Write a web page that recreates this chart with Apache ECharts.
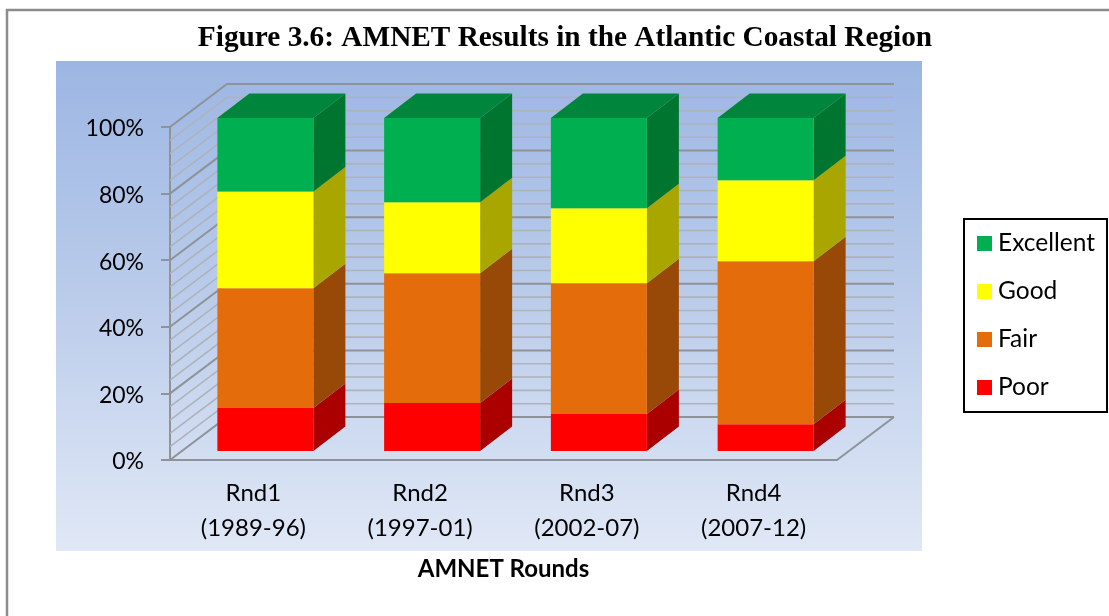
<!DOCTYPE html>
<html>
<head>
<meta charset="utf-8">
<style>html,body{margin:0;padding:0;background:#fff}#chart{width:1109px;height:616px}</style>
<script src="https://cdn.jsdelivr.net/npm/echarts@6/dist/echarts.min.js"></script>
</head>
<body>
<div id="chart"></div>
<script>
const rounds = ['Rnd1\n(1989-96)', 'Rnd2\n(1997-01)', 'Rnd3\n(2002-07)', 'Rnd4\n(2007-12)'];
const poor = [12.9, 14.4, 11.1, 8.0];
const fair = [36.0, 39.0, 39.3, 49.0];
const good = [29.0, 21.3, 22.5, 24.3];
const excellent = [22.1, 25.3, 27.1, 18.7];
const gridSteps = [0, 4, 8, 12, 16, 20, 24, 28, 32, 36, 40, 44, 48, 52, 56, 60, 64, 68, 72, 76, 80, 84, 88, 92, 96, 100];

// Oblique projection used for the walls and the bar solids
const WALL_DX = 57, WALL_DY = -43;
const INSET_DX = 12, INSET_DY = -9;
const BAR_DX = 32, BAR_DY = -24.5;
const BAR_HALF = 48;

const chart = echarts.init(document.getElementById('chart'), null, { renderer: 'canvas' });

function renderWalls(params, api) {
  const v = api.value(0);
  const cs = params.coordSys;
  const y = api.coord([0, v])[1];
  const x0 = cs.x, x1 = cs.x + cs.width;
  const major = v % 20 === 0;
  const stroke = major ? '#8f9398' : '#aeb3bb';
  const lw = major ? 2 : 1.6;
  const children = [{
    type: 'polyline',
    shape: { points: [[x0, y], [x0 + WALL_DX, y + WALL_DY], [x1 + WALL_DX, y + WALL_DY]] },
    style: { stroke, lineWidth: lw, fill: null }
  }];
  if (v === 0) {
    children.push({
      type: 'line',
      shape: { x1: x1, y1: y, x2: x1 + WALL_DX, y2: y + WALL_DY },
      style: { stroke, lineWidth: lw }
    });
  }
  return { type: 'group', children };
}

function barSolid(sideColor, topColor) {
  return function (params, api) {
    const idx = api.value(0);
    const a = api.coord([idx, api.value(1)]);
    const b = api.coord([idx, api.value(2)]);
    const left = a[0] + INSET_DX - BAR_HALF;
    const right = a[0] + INSET_DX + BAR_HALF;
    const yLow = a[1] + INSET_DY;
    const yHigh = b[1] + INSET_DY;
    const children = [
      {
        type: 'polygon',
        shape: { points: [[right, yLow], [right + BAR_DX, yLow + BAR_DY], [right + BAR_DX, yHigh + BAR_DY], [right, yHigh]] },
        style: { fill: sideColor }
      },
      {
        type: 'rect',
        shape: { x: left, y: yHigh, width: right - left, height: yLow - yHigh },
        style: { fill: api.visual('color') }
      }
    ];
    if (topColor) {
      children.push({
        type: 'polygon',
        shape: { points: [[left, yHigh], [right, yHigh], [right + BAR_DX, yHigh + BAR_DY], [left + BAR_DX, yHigh + BAR_DY]] },
        style: { fill: topColor }
      });
    }
    return { type: 'group', children };
  };
}

const layers = [
  { name: 'Poor', values: poor, color: '#FF0000', side: '#AA0000' },
  { name: 'Fair', values: fair, color: '#E46C0A', side: '#984807' },
  { name: 'Good', values: good, color: '#FFFF00', side: '#AAA600' },
  { name: 'Excellent', values: excellent, color: '#00B050', side: '#00752F', top: '#00863C' }
];

const running = rounds.map(() => 0);
const barSeries = layers.map(layer => ({
  name: layer.name,
  type: 'custom',
  z: 5,
  itemStyle: { color: layer.color },
  encode: { x: 0, y: [1, 2] },
  renderItem: barSolid(layer.side, layer.top),
  data: layer.values.map((val, i) => {
    const row = [i, running[i], running[i] + val];
    running[i] += val;
    return row;
  })
}));

chart.setOption({
  animation: false,
  backgroundColor: '#ffffff',
  textStyle: { fontFamily: 'Lato' },
  title: {
    text: 'Figure 3.6: AMNET Results in the Atlantic Coastal Region',
    left: 560, top: 19, textAlign: 'center',
    textStyle: { fontFamily: 'Liberation Serif', fontWeight: 'bold', fontSize: 29.3, color: '#000' }
  },
  graphic: [
    {
      type: 'polyline', z: -2, silent: true,
      shape: { points: [[7, 616], [7, 10], [1109, 10]] },
      style: { stroke: '#8c8c8c', lineWidth: 2.5, fill: null }
    },
    {
      type: 'rect', z: -1, silent: true,
      shape: { x: 56, y: 61, width: 866, height: 490 },
      style: {
        fill: new echarts.graphic.LinearGradient(0, 0, 0, 1, [
          { offset: 0, color: '#9cb6e3' },
          { offset: 0.5, color: '#bccdeb' },
          { offset: 1, color: '#e0e8f6' }
        ])
      }
    }
  ],
  grid: { left: 170, width: 667, top: 127, height: 333 },
  xAxis: {
    type: 'category',
    data: rounds,
    name: 'AMNET Rounds',
    nameLocation: 'middle',
    nameGap: 97,
    nameTextStyle: { fontFamily: 'Lato', fontWeight: 'bold', fontSize: 24, color: '#000' },
    axisLine: { lineStyle: { color: '#8f9398', width: 2 } },
    axisTick: { show: false },
    axisLabel: { fontFamily: 'Lato', fontSize: 24, color: '#000', margin: 16, lineHeight: 35, interval: 0 }
  },
  yAxis: {
    type: 'value',
    min: 0, max: 100, interval: 20,
    axisLine: { show: true, lineStyle: { color: '#8f9398', width: 2 } },
    axisTick: { show: true, length: 9, lineStyle: { color: '#8f9398', width: 2 } },
    splitLine: { show: false },
    axisLabel: { fontFamily: 'Lato', fontSize: 23, color: '#000', margin: 26, verticalAlign: 'top', lineHeight: 4, formatter: '{value}%' }
  },
  legend: {
    orient: 'vertical',
    left: 964, top: 219,
    data: ['Excellent', 'Good', 'Fair', 'Poor'].map(name => ({ name, icon: 'rect' })),
    itemWidth: 15, itemHeight: 15, itemGap: 23,
    padding: [12, 12, 12, 13],
    borderColor: '#000', borderWidth: 2, backgroundColor: '#fff',
    selectedMode: false,
    textStyle: { fontFamily: 'Lato', fontSize: 24.5, color: '#000', padding: [0, 0, 0, 1] }
  },
  series: [
    {
      name: 'walls',
      type: 'custom',
      z: 1,
      silent: true,
      encode: { y: 0 },
      renderItem: renderWalls,
      data: gridSteps.map(v => [v])
    }
  ].concat(barSeries)
});
</script>
</body>
</html>
